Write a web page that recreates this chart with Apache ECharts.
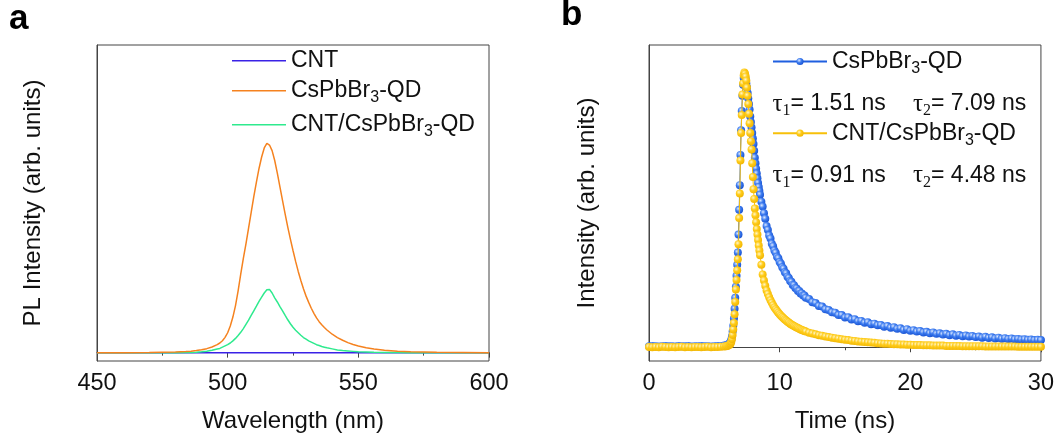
<!DOCTYPE html>
<html>
<head>
<meta charset="utf-8">
<script src="https://cdn.jsdelivr.net/npm/echarts@6/dist/echarts.min.js"></script>
<style>
html,body{margin:0;padding:0;background:#fff;}
#chart{width:1057px;height:439px;}
</style>
</head>
<body>
<div id="chart"></div>
<script>
// ---------- Panel a: PL spectra ----------
const wavelengthNm = [450,460,470,480,484,486,488,490,492,494,496,
  497,498,499,500,501,502,503,504,505,506,507,508,509,510,511,512,513,514,515,516,517,518,519,520,
  521,522,523,524,525,526,527,528,529,530,531,532,533,534,535,536,537,538,
  540,542,544,546,548,550,553,556,560,565,570,580,590,600];
const plQD = [0,0,0.001,0.003,0.005,0.007,0.01,0.014,0.019,0.027,0.038,
  0.046,0.057,0.073,0.095,0.127,0.17,0.225,0.295,0.375,0.45,0.52,0.595,0.67,0.745,0.815,0.88,0.935,0.978,1.0,0.992,0.965,0.918,0.858,0.792,
  0.726,0.662,0.6,0.542,0.488,0.436,0.388,0.345,0.305,0.27,0.24,0.212,0.188,0.166,0.148,0.133,0.12,0.108,
  0.088,0.072,0.059,0.048,0.039,0.032,0.023,0.017,0.011,0.007,0.004,0.002,0.001,0];
const plHybrid = [0,0,0,0,0.001,0.001,0.002,0.004,0.007,0.011,0.017,
  0.02,0.026,0.032,0.038,0.046,0.056,0.068,0.082,0.097,0.115,0.135,0.155,0.178,0.2,0.222,0.245,0.265,0.285,0.3,0.302,0.285,0.262,0.242,0.22,
  0.2,0.178,0.157,0.138,0.121,0.107,0.095,0.083,0.072,0.064,0.056,0.05,0.044,0.038,0.034,0.029,0.026,0.023,
  0.018,0.013,0.01,0.008,0.006,0.004,0.003,0.002,0.001,0.001,0,0,0,0];
const cntWavelength = [450,600];
const plCNT = [0,0];
const wlTicks = [450,500,550,600];

// ---------- Panel b: TRPL decay ----------
const timeNs = [0,0.25,0.5,0.75,1,1.25,1.5,1.75,2,2.25,2.5,2.75,3,3.25,3.5,3.75,4,4.25,4.5,4.75,5,5.25,5.5,5.75,
  5.9,6.0,6.1,6.2,
  6.25,6.3,6.35,6.4,6.45,6.5,6.55,6.6,6.65,6.7,6.75,6.8,6.85,6.9,6.95,7.0,7.05,7.1,7.15,7.2,7.25,7.3,7.35,7.4,7.45,7.5,
  7.55,7.6,7.65,7.7,7.75,7.8,7.85,7.9,7.95,8.0,8.05,8.1,8.15,8.2,8.25,8.3,8.35,8.4,8.45,8.5,
  8.6,8.7,8.8,8.9,9.0,9.1,9.2,9.3,9.4,9.5,9.6,9.7,9.8,9.9,10.0,10.1,10.2,10.3,10.4,10.5,10.6,10.7,10.8,10.9,11.0,
  11.1,11.2,11.3,11.4,11.5,11.6,11.7,11.8,11.9,12.0,
  12.25,12.5,12.75,13,13.25,13.5,13.75,14,14.25,14.5,14.75,15,15.25,15.5,15.75,16,16.25,16.5,16.75,17,17.25,17.5,17.75,18,
  18.25,18.5,18.75,19,19.25,19.5,19.75,20,20.25,20.5,20.75,21,21.25,21.5,21.75,22,22.25,22.5,22.75,23,23.25,23.5,23.75,24,
  24.25,24.5,24.75,25,25.25,25.5,25.75,26,26.25,26.5,26.75,27,27.25,27.5,27.75,28,28.25,28.5,28.75,29,29.25,29.5,29.75,30];
const decayQD = [0.004,0.005,0.004,0.003,0.004,0.005,0.004,0.004,0.003,0.005,0.004,0.004,0.005,0.003,0.004,0.004,0.005,0.004,0.004,0.003,0.004,0.005,0.005,0.006,
  0.007,0.009,0.012,0.016,
  0.021,0.028,0.04,0.057,0.078,0.105,0.14,0.18,0.22,0.26,0.3,0.345,0.41,0.5,0.59,0.7,0.79,0.86,0.915,0.955,0.98,0.99,0.985,0.975,0.96,0.945,
  0.925,0.905,0.885,0.865,0.84,0.82,0.8,0.78,0.76,0.74,0.715,0.69,0.67,0.65,0.632,0.615,0.598,0.583,0.569,0.555,
  0.53,0.512,0.488,0.468,0.441,0.427,0.407,0.396,0.377,0.368,0.352,0.344,0.329,0.324,0.31,0.304,0.291,0.286,0.273,0.269,0.257,0.252,0.241,0.238,0.227,
  0.226,0.216,0.214,0.205,0.205,0.196,0.196,0.188,0.188,0.18,
  0.176,0.164,0.161,0.15,0.148,0.138,0.136,0.127,0.126,0.117,0.117,0.108,0.109,0.101,0.102,0.095,0.096,0.089,0.091,0.084,0.086,0.08,0.081,0.075,
  0.077,0.071,0.073,0.067,0.069,0.063,0.066,0.06,0.062,0.057,0.059,0.054,0.056,0.051,0.054,0.049,0.051,0.046,0.049,0.044,0.047,0.042,0.045,0.04,
  0.043,0.039,0.041,0.037,0.039,0.035,0.038,0.034,0.036,0.032,0.035,0.031,0.033,0.03,0.032,0.029,0.03,0.028,0.029,0.027,0.028,0.026,0.027,0.026];
const decayHybrid = [0.001,0,0.001,0,0.002,0.001,0,0.001,0,0.001,0.002,0,0.001,0,0.001,0.001,0,0.001,0.002,0,0.001,0.001,0.002,0.003,
  0.004,0.005,0.007,0.01,
  0.014,0.02,0.03,0.045,0.065,0.088,0.12,0.165,0.21,0.245,0.28,0.32,0.375,0.47,0.56,0.68,0.78,0.845,0.92,0.96,0.99,1.0,0.995,0.985,0.97,0.945,
  0.915,0.885,0.85,0.815,0.78,0.75,0.72,0.67,0.62,0.575,0.54,0.505,0.48,0.455,0.43,0.41,0.39,0.37,0.352,0.335,
  0.3,0.265,0.243,0.224,0.207,0.194,0.182,0.171,0.162,0.153,0.145,0.138,0.132,0.126,0.12,0.115,0.11,0.106,0.101,0.097,0.093,0.09,0.086,0.083,0.08,
  0.077,0.075,0.072,0.07,0.067,0.065,0.063,0.061,0.059,0.057,
  0.053,0.05,0.047,0.044,0.042,0.039,0.037,0.035,0.033,0.031,0.029,0.027,0.026,0.024,0.023,0.021,0.02,0.019,0.018,0.017,0.016,0.015,0.014,0.013,
  0.013,0.012,0.011,0.011,0.01,0.01,0.009,0.009,0.008,0.008,0.008,0.007,0.007,0.007,0.006,0.006,0.006,0.006,0.005,0.005,0.005,0.005,0.005,0.004,
  0.004,0.004,0.004,0.004,0.004,0.004,0.003,0.003,0.003,0.003,0.003,0.003,0.003,0.003,0.003,0.003,0.002,0.002,0.002,0.002,0.002,0.002,0.002,0.002];
const timeTicks = [0,10,20,30];
const tauQD = ['1.51 ns','7.09 ns'];
const tauHybrid = ['0.91 ns','4.48 ns'];

const SANS = '"Liberation Sans", Arial, sans-serif';
const SERIF = '"Liberation Serif", "Times New Roman", serif';
const AXIS_COLOR = '#444';

function pairs(xs, ys){ return xs.map((x,i)=>[x, ys[i]]); }

function richName(name){
  const n = name.replace(' decay','');
  if (n.indexOf('Br3') >= 0){
    const parts = n.split('Br3');
    return '{m|' + parts[0] + 'Br}{s|3}{m|' + parts[1] + '}';
  }
  return '{m|' + n + '}';
}
const legendRich = {
  m:{fontFamily:SANS, fontSize:23, color:'#111', lineHeight:30},
  s:{fontFamily:SANS, fontSize:16, color:'#111', lineHeight:30, verticalAlign:'bottom'}
};

function ballGradient(light, mid, dark){
  return {type:'radial', x:0.38, y:0.35, r:0.7,
    colorStops:[{offset:0,color:light},{offset:0.45,color:mid},{offset:1,color:dark}]};
}

function mkLegend(name, left, centerY, opts){
  return Object.assign({data:[name], left:left, top:centerY-15, padding:0, itemWidth:54, itemHeight:9,
    formatter:richName, textStyle:{rich:legendRich}, selectedMode:false}, opts || {});
}
const lineOnly = {icon:'rect', itemHeight:1.6};

function xAxisCommon(gridIndex, min, max, interval, title, gap){
  return {type:'value', gridIndex:gridIndex, min:min, max:max, interval:interval,
    name:title, nameLocation:'middle', nameGap:gap,
    nameTextStyle:{fontFamily:SANS, fontSize:24, color:'#111'},
    axisLine:{show:true, lineStyle:{color:AXIS_COLOR, width:1}},
    axisTick:{show:true, inside:false, length:5, lineStyle:{color:AXIS_COLOR}},
    minorTick:{show:true, splitNumber:2, length:3, lineStyle:{color:AXIS_COLOR}},
    axisLabel:{fontFamily:SANS, fontSize:23.5, color:'#111', margin:11},
    splitLine:{show:false}};
}
function yAxisCommon(gridIndex, min, max, title, gap){
  return {type:'value', gridIndex:gridIndex, min:min, max:max,
    name:title, nameLocation:'middle', nameGap:gap, nameRotate:90,
    nameTextStyle:{fontFamily:SANS, fontSize:24, color:'#111'},
    axisLine:{show:true, lineStyle:{color:AXIS_COLOR, width:1}},
    axisTick:{show:false}, axisLabel:{show:false}, splitLine:{show:false}};
}

const blueBall = ballGradient('#dbe8ff', '#3d7cf0', '#1650d0');
const goldBall = ballGradient('#fff6c8', '#ffcc1a', '#f0b400');

const option = {
  animation:false,
  backgroundColor:'#fff',
  grid:[
    {left:97, top:45, width:392, height:316, show:true, borderColor:AXIS_COLOR, borderWidth:1, backgroundColor:'transparent'},
    {left:649, top:45, width:392, height:316, show:true, borderColor:AXIS_COLOR, borderWidth:1, backgroundColor:'transparent'}
  ],
  xAxis:[
    xAxisCommon(0, wlTicks[0], wlTicks[wlTicks.length-1], wlTicks[1]-wlTicks[0], 'Wavelength (nm)', 48),
    xAxisCommon(1, timeTicks[0], timeTicks[timeTicks.length-1], timeTicks[1]-timeTicks[0], 'Time (ns)', 48)
  ],
  yAxis:[
    yAxisCommon(0, -0.04, 1.47, 'PL Intensity (arb. units)', 52),
    yAxisCommon(1, -0.05, 1.1, 'Intensity (arb. units)', 50)
  ],
  legend:[
    mkLegend('CNT', 232, 64.3, lineOnly),
    mkLegend('CsPbBr3-QD', 232, 94.3, lineOnly),
    mkLegend('CNT/CsPbBr3-QD', 232, 128.3, lineOnly),
    mkLegend('CsPbBr3-QD decay', 772, 65),
    mkLegend('CNT/CsPbBr3-QD decay', 772, 136.7)
  ],
  series:[
    {name:'CNT', type:'line', xAxisIndex:0, yAxisIndex:0, z:2, data:pairs(cntWavelength, plCNT),
      symbol:'none', lineStyle:{color:'#3a22e6', width:1.5}, itemStyle:{color:'#3a22e6'}},
    {name:'CNT/CsPbBr3-QD', type:'line', xAxisIndex:0, yAxisIndex:0, z:3, data:pairs(wavelengthNm, plHybrid),
      symbol:'none', lineStyle:{color:'#2eea8e', width:1.5}, itemStyle:{color:'#2eea8e'}},
    {name:'CsPbBr3-QD', type:'line', xAxisIndex:0, yAxisIndex:0, z:4, data:pairs(wavelengthNm, plQD),
      symbol:'none', lineStyle:{color:'#f5821f', width:1.5}, itemStyle:{color:'#f5821f'}},
    {name:'CsPbBr3-QD decay', type:'line', xAxisIndex:1, yAxisIndex:1, z:2, data:pairs(timeNs, decayQD),
      symbol:'circle', symbolSize:8, showAllSymbol:true,
      lineStyle:{color:'#1f5fe0', width:1}, itemStyle:{color:blueBall}},
    {name:'CNT/CsPbBr3-QD decay', type:'line', xAxisIndex:1, yAxisIndex:1, z:3, data:pairs(timeNs, decayHybrid),
      symbol:'circle', symbolSize:8, showAllSymbol:true,
      lineStyle:{color:'#f7c00a', width:1}, itemStyle:{color:goldBall}}
  ],
  graphic:[
    {type:'text', x:9, y:19.6, style:{text:'a', fontFamily:SANS, fontWeight:'bold', fontSize:35, fill:'#000', verticalAlign:'middle'}},
    {type:'text', x:561, y:15.6, style:{text:'b', fontFamily:SANS, fontWeight:'bold', fontSize:35, fill:'#000', verticalAlign:'middle'}}
  ]
};

const tauRich = {
  t:{fontFamily:SERIF, fontSize:25, fill:'#111', color:'#111', lineHeight:30},
  s:{fontFamily:SERIF, fontSize:16, fill:'#111', color:'#111', lineHeight:30, verticalAlign:'bottom'},
  m:{fontFamily:SANS, fontSize:23, fill:'#111', color:'#111', lineHeight:30}
};
function tauText(x, y, idx, val){
  return {type:'text', x:x, y:y, style:{text:'{t|τ}{s|' + idx + '}{m|= ' + val + '}', rich:tauRich, verticalAlign:'middle', align:'left', fill:'#111'}};
}
option.graphic.push(tauText(772.5, 104, 1, tauQD[0]));
option.graphic.push(tauText(913, 104, 2, tauQD[1]));
option.graphic.push(tauText(772.5, 175.5, 1, tauHybrid[0]));
option.graphic.push(tauText(913, 175.5, 2, tauHybrid[1]));

const chart = echarts.init(document.getElementById('chart'), null, {renderer:'canvas'});
chart.setOption(option);
</script>
</body>
</html>
